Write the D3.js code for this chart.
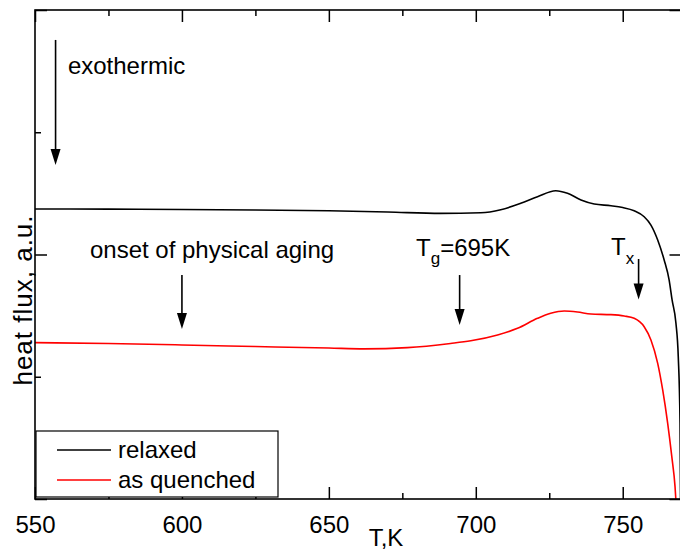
<!DOCTYPE html>
<html>
<head>
<meta charset="utf-8">
<script src="https://cdn.jsdelivr.net/npm/d3@7"></script>
<style>
  html, body { margin: 0; padding: 0; background: #fff; }
  svg { display: block; font-family: "Liberation Sans", Arial, Helvetica, sans-serif; }
</style>
</head>
<body>
<svg id="chart" width="680" height="551"></svg>
<script>
// DSC traces: temperature (K) vs heat flux (arbitrary units)
const relaxedT = [550, 575, 600, 625, 650, 670, 688, 701.7, 708.5, 715.3, 721, 727.2, 731.2, 735.8, 740.3, 746, 750, 753.9, 757.3, 759.6, 761.9, 764.1, 765.8, 766.8, 768.1, 768.9, 769.5, 769.7];
const relaxedHF = [2.372, 2.371, 2.368, 2.364, 2.358, 2.348, 2.336, 2.341, 2.366, 2.419, 2.473, 2.522, 2.501, 2.446, 2.413, 2.399, 2.384, 2.358, 2.309, 2.241, 2.119, 1.955, 1.791, 1.628, 1.440, 1.164, 0.622, -0.1];

const quenchedT = [550, 575, 600, 625, 650, 662, 676.7, 691.4, 698.3, 707.4, 714.2, 721, 725.5, 730.1, 734.6, 739.2, 746, 750.5, 753.9, 757.3, 759.6, 761.9, 763.6, 765.3, 766.7, 767.8, 768.2];
const quenchedHF = [1.279, 1.272, 1.260, 1.247, 1.235, 1.228, 1.238, 1.272, 1.294, 1.342, 1.396, 1.478, 1.519, 1.538, 1.530, 1.513, 1.508, 1.497, 1.478, 1.409, 1.301, 1.110, 0.892, 0.619, 0.346, 0.101, -0.05];

const seriesNames = ["relaxed", "as quenched"];
const seriesColors = ["#000000", "#ff0000"];

const xMajorTicks = [550, 600, 650, 700, 750];
const xMinorTicks = [575, 625, 675, 725];
const yMajorTicks = [0, 2, 4];
const yMinorTicks = [1, 3];

const svg = d3.select("#chart");
const plotLeft = 35, plotRight = 681.5, plotTop = 10, plotBottom = 499;

const x = d3.scaleLinear().domain([550, 770]).range([plotLeft, plotRight]);
const y = d3.scaleLinear().domain([0, 4]).range([plotBottom, plotTop]);

// clip curves to the plot frame
svg.append("defs").append("clipPath").attr("id", "plotClip")
  .append("rect").attr("x", plotLeft).attr("y", plotTop)
  .attr("width", plotRight - plotLeft).attr("height", plotBottom - plotTop);

const line = d3.line()
  .x(d => x(d[0])).y(d => y(d[1]))
  .curve(d3.curveMonotoneX);

const series = [
  d3.zip(relaxedT, relaxedHF),
  d3.zip(quenchedT, quenchedHF)
];

const plot = svg.append("g").attr("clip-path", "url(#plotClip)");
series.forEach((pts, i) => {
  plot.append("path")
    .datum(pts)
    .attr("fill", "none")
    .attr("stroke", seriesColors[i])
    .attr("stroke-width", 1.6)
    .attr("stroke-linejoin", "round")
    .attr("d", line);
});

// axes with inward ticks on all four sides
function styleAxis(g) {
  g.select(".domain").remove();
  g.selectAll(".tick line").attr("stroke", "#000").attr("stroke-width", 1.5);
  g.selectAll("text").attr("font-size", 24).attr("fill", "#000")
    .attr("font-family", "'Liberation Sans', Arial, sans-serif");
}

svg.append("g").attr("transform", `translate(0,${plotBottom})`)
  .call(d3.axisBottom(x).tickValues(xMajorTicks).tickSize(-12).tickPadding(17).tickFormat(d3.format("d")))
  .call(styleAxis);
svg.append("g").attr("transform", `translate(0,${plotBottom})`)
  .call(d3.axisBottom(x).tickValues(xMinorTicks).tickSize(-6).tickFormat(""))
  .call(styleAxis);
svg.append("g").attr("transform", `translate(0,${plotTop})`)
  .call(d3.axisTop(x).tickValues(xMajorTicks).tickSize(-12).tickFormat(""))
  .call(styleAxis);
svg.append("g").attr("transform", `translate(0,${plotTop})`)
  .call(d3.axisTop(x).tickValues(xMinorTicks).tickSize(-6).tickFormat(""))
  .call(styleAxis);
svg.append("g").attr("transform", `translate(${plotLeft},0)`)
  .call(d3.axisLeft(y).tickValues(yMajorTicks).tickSize(-12).tickFormat(""))
  .call(styleAxis);
svg.append("g").attr("transform", `translate(${plotLeft},0)`)
  .call(d3.axisLeft(y).tickValues(yMinorTicks).tickSize(-6).tickFormat(""))
  .call(styleAxis);
svg.append("g").attr("transform", `translate(${plotRight},0)`)
  .call(d3.axisRight(y).tickValues(yMajorTicks).tickSize(-12).tickFormat(""))
  .call(styleAxis);

// frame
svg.append("rect")
  .attr("x", plotLeft).attr("y", plotTop)
  .attr("width", plotRight - plotLeft).attr("height", plotBottom - plotTop)
  .attr("fill", "none").attr("stroke", "#000").attr("stroke-width", 1.6);

// axis titles
svg.append("text")
  .attr("x", 386).attr("y", 546)
  .attr("text-anchor", "middle").attr("font-size", 24)
  .text("T,K");
svg.append("text")
  .attr("transform", `translate(32,300) rotate(-90)`)
  .attr("text-anchor", "middle").attr("font-size", 26)
  .attr("letter-spacing", 1)
  .text("heat flux, a.u.");

// annotation arrows (temperature, heat flux at start and tip)
const arrowT = [557, 600, 694.5, 755.4];
const arrowFrom = [3.755, 1.832, 1.832, 1.963];
const arrowTo = [2.732, 1.391, 1.423, 1.632];

arrowT.forEach((t, i) => {
  const ax = x(t), y0 = y(arrowFrom[i]), y1 = y(arrowTo[i]);
  const head = 16, half = 5;
  svg.append("line")
    .attr("x1", ax).attr("x2", ax)
    .attr("y1", y0).attr("y2", y1 - head + 2)
    .attr("stroke", "#000").attr("stroke-width", 1.6);
  svg.append("path")
    .attr("d", `M${ax - half},${y1 - head} L${ax + half},${y1 - head} L${ax},${y1} Z`)
    .attr("fill", "#000");
});

// annotation labels
svg.append("text").attr("x", x(561.2)).attr("y", 74).attr("font-size", 24).text("exothermic");
svg.append("text").attr("x", x(568.7)).attr("y", 258).attr("font-size", 24).text("onset of physical aging");

const tg = svg.append("text").attr("x", 416).attr("y", 256).attr("font-size", 24);
tg.append("tspan").text("T");
tg.append("tspan").attr("dy", 8).attr("font-size", 17).text("g");
tg.append("tspan").attr("dy", -8).text("=695K");

const tx = svg.append("text").attr("x", 611).attr("y", 255).attr("font-size", 24);
tx.append("tspan").text("T");
tx.append("tspan").attr("dy", 9).attr("font-size", 17).text("x");

// legend
const legend = svg.append("g");
legend.append("rect")
  .attr("x", 36).attr("y", 431).attr("width", 242).attr("height", 66)
  .attr("fill", "#fff").attr("stroke", "#000").attr("stroke-width", 1.2);
seriesNames.forEach((name, i) => {
  const ly = 450 + i * 30;
  legend.append("line")
    .attr("x1", 57).attr("x2", 111).attr("y1", ly).attr("y2", ly)
    .attr("stroke", seriesColors[i]).attr("stroke-width", 1.6);
  legend.append("text")
    .attr("x", 118).attr("y", ly + 7.5)
    .attr("font-size", 24).text(name);
});
</script>
</body>
</html>
